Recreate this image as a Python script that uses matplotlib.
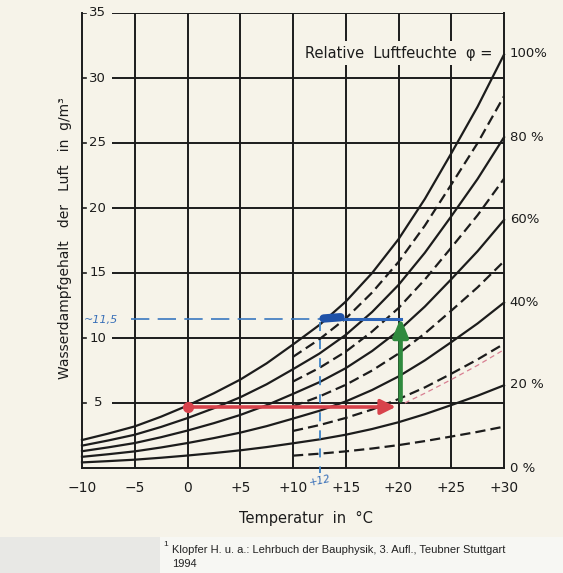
import matplotlib
matplotlib.use('Agg')
import matplotlib.pyplot as plt
from matplotlib.patches import Rectangle

# ---------------- data ----------------
temps = [-10, -7.5, -5, -2.5, 0, 2.5, 5, 7.5, 10, 12.5, 15, 17.5, 20, 22.5, 25, 27.5, 30]
rh100 = [2.15, 2.65, 3.2, 3.95, 4.8, 5.75, 6.8, 8.05, 9.5, 11.0, 12.8, 15.0, 17.6, 20.7, 24.2, 27.8, 31.8]
rh80 = [1.72, 2.12, 2.56, 3.16, 3.84, 4.6, 5.44, 6.44, 7.6, 8.8, 10.24, 12.0, 14.08, 16.56, 19.36, 22.24, 25.44]
rh60 = [1.29, 1.59, 1.92, 2.37, 2.88, 3.45, 4.08, 4.83, 5.7, 6.6, 7.68, 9.0, 10.56, 12.42, 14.52, 16.68, 19.08]
rh40 = [0.86, 1.06, 1.28, 1.58, 1.92, 2.3, 2.72, 3.22, 3.8, 4.4, 5.12, 6.0, 7.04, 8.28, 9.68, 11.12, 12.72]
rh20 = [0.43, 0.53, 0.64, 0.79, 0.96, 1.15, 1.36, 1.61, 1.9, 2.2, 2.56, 3.0, 3.52, 4.14, 4.84, 5.56, 6.36]

temps_dashed = [10, 12.5, 15, 17.5, 20, 22.5, 25, 27.5, 30]
rh90 = [8.55, 9.9, 11.5, 13.5, 15.85, 18.65, 21.8, 25.0, 28.6]
rh70 = [6.65, 7.7, 8.95, 10.5, 12.3, 14.5, 16.95, 19.45, 22.25]
rh50 = [4.75, 5.5, 6.4, 7.5, 8.8, 10.35, 12.1, 13.9, 15.9]
rh30 = [2.85, 3.3, 3.85, 4.5, 5.3, 6.2, 7.25, 8.35, 9.55]
rh10 = [0.95, 1.1, 1.28, 1.5, 1.76, 2.07, 2.42, 2.78, 3.18]

pink_t = [20.6, 22.5, 25, 27.5, 30]
pink_v = [5.0, 5.75, 6.8, 7.9, 9.1]

y_ticks = [5, 10, 15, 20, 25, 30, 35]
x_ticks = [-10, -5, 0, 5, 10, 15, 20, 25, 30]
x_ticklabels = ['\u221210', '\u22125', '0', '+5', '+10', '+15', '+20', '+25', '+30']
right_labels = ['100%', '80 %', '60%', '40%', '20 %', '0 %']
right_label_vals = [31.9, 25.4, 19.1, 12.7, 6.45, 0.0]

red_start = (0, 4.7)
red_end = (20, 4.7)
green_start = (20.2, 5.2)
green_end = (20.2, 11.55)
blue_level = 11.5
blue_t = 12.6
blue_point_t = 13.0

ink = '#1c1c1c'
bg = '#f6f3e9'

fig = plt.figure(figsize=(5.63, 5.73), dpi=100, facecolor=bg)
fig.patches.append(Rectangle((0, 0), 160/563, 36/573, transform=fig.transFigure,
                             facecolor='#e8e8e5', edgecolor='none', zorder=0))
fig.patches.append(Rectangle((160/563, 0), 403/563, 36/573, transform=fig.transFigure,
                             facecolor='#f7f7f3', edgecolor='none', zorder=0))

ax = fig.add_axes([82/563, (573-468)/573, (504-82)/563, (468-13)/573])
ax.set_facecolor(bg)
ax.set_xlim(-10, 30)
ax.set_ylim(0, 35)
ax.spines['top'].set_visible(False)
for s in ['left', 'right', 'bottom']:
    ax.spines[s].set_color(ink)
    ax.spines[s].set_linewidth(1.4)
ax.set_xticks([])
ax.set_yticks([])

gx0 = -7.2
for v in y_ticks:
    ax.plot([gx0, 30], [v, v], color=ink, lw=1.4, zorder=1, solid_capstyle='butt')
    ax.plot([-10, -9.6], [v, v], color=ink, lw=1.2, zorder=1)
    ax.text(-8.5, v, str(v), ha='center', va='center', fontsize=9.5, color=ink, zorder=2)
for t in x_ticks[1:-1]:
    ax.plot([t, t], [0, 35], color=ink, lw=1.4, zorder=1)
for t, lab in zip(x_ticks, x_ticklabels):
    ax.text(t, -1.55, lab, ha='center', va='center', fontsize=10, color=ink, clip_on=False)

for vals in [rh100, rh80, rh60, rh40, rh20]:
    ax.plot(temps, vals, color=ink, lw=1.6, zorder=3, clip_on=False)
for vals in [rh90, rh70, rh50, rh30, rh10]:
    ax.plot(temps_dashed, vals, color=ink, lw=1.6, zorder=3, linestyle=(0, (4.6, 2.3)),
            clip_on=False)
ax.plot(pink_t, pink_v, color='#d87f92', lw=0.9, linestyle=(0, (4, 3)), zorder=3)

for lab, v in zip(right_labels, right_label_vals):
    ax.text(30.55, v, lab, ha='left', va='center', fontsize=9.5, color=ink, clip_on=False)

ax.text(28.9, 31.9, 'Relative  Luftfeuchte  \u03c6 =', ha='right', va='center', fontsize=10.5,
        color=ink, zorder=2.5,
        bbox=dict(boxstyle='square,pad=0.3', facecolor=bg, edgecolor='none'))

# red construction
ax.plot([red_start[0], red_end[0] - 1.2], [red_start[1], red_end[1]], color='#d8434c', lw=2.6,
        zorder=4, solid_capstyle='butt')
ax.annotate('', xy=red_end, xytext=(red_end[0] - 2.2, red_end[1]),
            arrowprops=dict(arrowstyle='-|>,head_length=0.9,head_width=0.45', color='#d8434c',
                            lw=2.6), zorder=4)
ax.plot([red_start[0]], [red_start[1]], marker='o', ms=7, color='#d8434c', zorder=4)

# green arrow
ax.annotate('', xy=green_end, xytext=green_start,
            arrowprops=dict(arrowstyle='-|>,head_length=1.1,head_width=0.45', color='#2f8a3e',
                            lw=3.2, shrinkA=0, shrinkB=0), zorder=4)

# blue construction
ax.plot([blue_point_t, 20.2], [blue_level, blue_level], color='#2d64b8', lw=2.2, zorder=4)
ax.plot([-5.4, blue_point_t], [blue_level, blue_level], color='#3a78c0', lw=1.2,
        linestyle=(0, (11, 5)), zorder=4)
ax.plot([blue_t, blue_t], [blue_level - 0.3, -0.4], color='#3f85c8', lw=1.3,
        linestyle=(0, (5, 5)), zorder=4, clip_on=False)
ax.plot([blue_point_t - 0.1, blue_point_t + 1.5], [blue_level, blue_level + 0.1],
        color='#1f52a8', lw=6, solid_capstyle='round', zorder=5)
ax.text(-9.85, 11.4, '~11,5', ha='left', va='center', fontsize=8, color='#3a70b8',
        style='italic', zorder=5)
ax.text(blue_t, -1.0, '+12', ha='center', va='center', fontsize=7.5, color='#3a70b8',
        style='italic', rotation=12, clip_on=False, zorder=5)

fig.text(65/563, 1 - 238/573, 'Wasserdampfgehalt   der   Luft   in  g/m\u00b3', rotation=90,
         ha='center', va='center', fontsize=10, color=ink)
fig.text(306/563, 1 - 518/573, 'Temperatur  in  \u00b0C', ha='center', va='center',
         fontsize=10.5, color=ink)

fig.text(163/563, 1 - 545/573, '1', ha='left', va='center', fontsize=6, color='#222222',
         family='Liberation Sans')
fig.text(172/563, 1 - 550/573, 'Klopfer H. u. a.: Lehrbuch der Bauphysik, 3. Aufl., Teubner Stuttgart',
         ha='left', va='center', fontsize=8, color='#222222', family='Liberation Sans')
fig.text(172/563, 1 - 564/573, '1994', ha='left', va='center', fontsize=8, color='#222222',
         family='Liberation Sans')

fig.savefig('out.png', dpi=100, facecolor=bg)
